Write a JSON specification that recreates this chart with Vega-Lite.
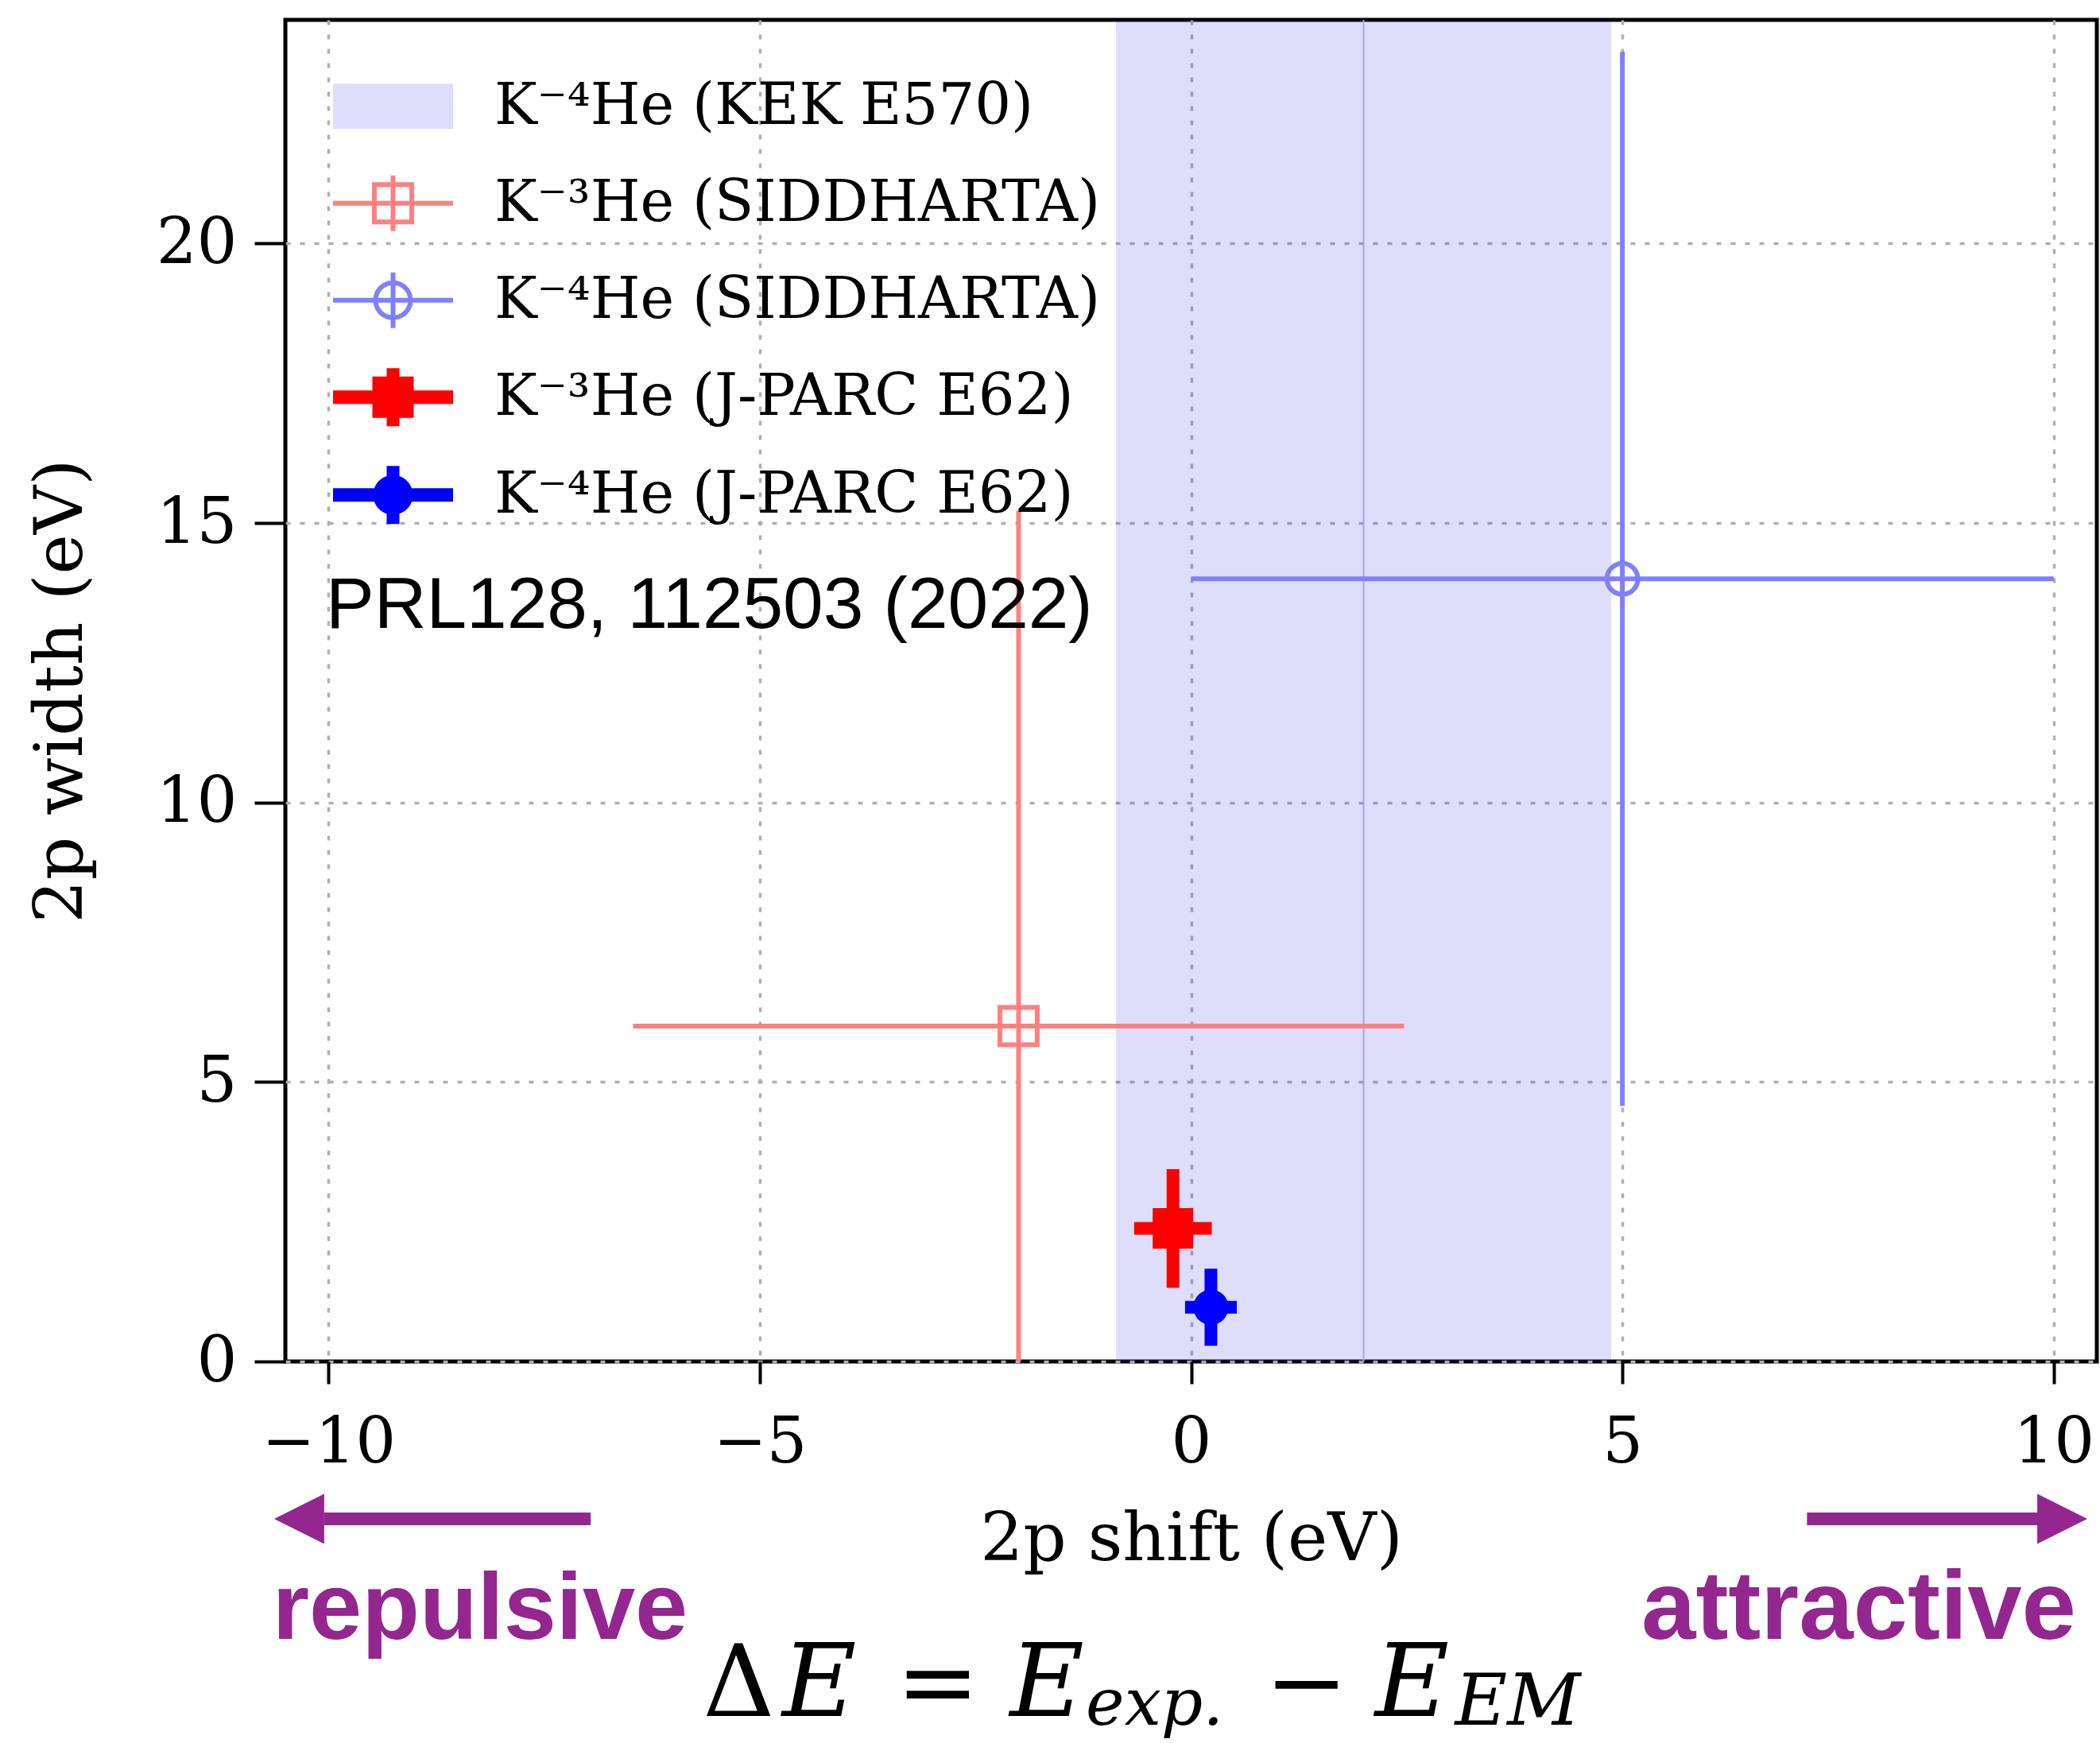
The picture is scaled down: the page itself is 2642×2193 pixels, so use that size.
{
  "$schema": "https://vega.github.io/schema/vega-lite/v6.json",
  "width": 2279,
  "height": 1688,
  "autosize": {"type": "none"},
  "padding": {"left": 359, "top": 25, "right": 4, "bottom": 480},
  "background": "white",
  "datasets": {
    "points": [
      {"series": "S3", "x": -2, "xlo": -6.47, "xhi": 2.47, "y": 6, "ylo": -3.22, "yhi": 15.22},
      {"series": "S4", "x": 5, "xlo": 0, "xhi": 10, "y": 14, "ylo": 4.57, "yhi": 23.43},
      {"series": "J3", "x": -0.21, "xlo": -0.66, "xhi": 0.24, "y": 2.38, "ylo": 1.32, "yhi": 3.44},
      {"series": "J4", "x": 0.23, "xlo": -0.07, "xhi": 0.53, "y": 0.97, "ylo": 0.28, "yhi": 1.66}
    ],
    "band": [{"series": "KEK", "center": 2.0, "lo": -0.87, "hi": 4.87}]
  },
  "layer": [
    {
      "data": {"name": "band"},
      "mark": {"type": "rect", "color": "#3232e6", "opacity": 0.16},
      "encoding": {
        "x": {"field": "lo", "type": "quantitative", "scale": {"domain": [-10.5, 10.5], "nice": false, "zero": false}, "axis": {"title": "2p shift (eV)", "values": [-10, -5, 0, 5, 10], "format": "d"}},
        "x2": {"field": "hi"},
        "y": {"datum": 0, "type": "quantitative", "scale": {"domain": [0, 24], "nice": false, "zero": false}, "axis": {"title": "2p width (eV)", "values": [0, 5, 10, 15, 20], "format": "d"}},
        "y2": {"datum": 24}
      }
    },
    {
      "data": {"name": "band"},
      "mark": {"type": "rule", "color": "#a4a4f2", "strokeWidth": 2},
      "encoding": {"x": {"field": "center", "type": "quantitative"}}
    },
    {
      "data": {"name": "points"},
      "transform": [{"filter": "datum.series == 'S3'"}],
      "mark": {"type": "rule", "strokeWidth": 6, "color": "#ff8080"},
      "encoding": {"x": {"field": "xlo", "type": "quantitative"}, "x2": {"field": "xhi"}, "y": {"field": "y", "type": "quantitative"}}
    },
    {
      "data": {"name": "points"},
      "transform": [{"filter": "datum.series == 'S3'"}],
      "mark": {"type": "rule", "strokeWidth": 6, "color": "#ff8080", "clip": true},
      "encoding": {"x": {"field": "x", "type": "quantitative"}, "y": {"field": "ylo", "type": "quantitative"}, "y2": {"field": "yhi"}}
    },
    {
      "data": {"name": "points"},
      "transform": [{"filter": "datum.series == 'S4'"}],
      "mark": {"type": "rule", "strokeWidth": 6, "color": "#8080ff"},
      "encoding": {"x": {"field": "xlo", "type": "quantitative"}, "x2": {"field": "xhi"}, "y": {"field": "y", "type": "quantitative"}}
    },
    {
      "data": {"name": "points"},
      "transform": [{"filter": "datum.series == 'S4'"}],
      "mark": {"type": "rule", "strokeWidth": 6, "color": "#8080ff"},
      "encoding": {"x": {"field": "x", "type": "quantitative"}, "y": {"field": "ylo", "type": "quantitative"}, "y2": {"field": "yhi"}}
    },
    {
      "data": {"name": "points"},
      "transform": [{"filter": "datum.series == 'S3'"}],
      "mark": {"type": "point", "shape": "square", "size": 2209, "filled": false, "strokeWidth": 6, "color": "#ff8080", "opacity": 1},
      "encoding": {"x": {"field": "x", "type": "quantitative"}, "y": {"field": "y", "type": "quantitative"}}
    },
    {
      "data": {"name": "points"},
      "transform": [{"filter": "datum.series == 'S4'"}],
      "mark": {"type": "point", "shape": "circle", "size": 1521, "filled": false, "strokeWidth": 6, "color": "#8080ff", "opacity": 1},
      "encoding": {"x": {"field": "x", "type": "quantitative"}, "y": {"field": "y", "type": "quantitative"}}
    },
    {
      "data": {"name": "points"},
      "transform": [{"filter": "datum.series == 'J3'"}],
      "mark": {"type": "rule", "strokeWidth": 16, "color": "#ff0000"},
      "encoding": {"x": {"field": "xlo", "type": "quantitative"}, "x2": {"field": "xhi"}, "y": {"field": "y", "type": "quantitative"}}
    },
    {
      "data": {"name": "points"},
      "transform": [{"filter": "datum.series == 'J3'"}],
      "mark": {"type": "rule", "strokeWidth": 16, "color": "#ff0000"},
      "encoding": {"x": {"field": "x", "type": "quantitative"}, "y": {"field": "ylo", "type": "quantitative"}, "y2": {"field": "yhi"}}
    },
    {
      "data": {"name": "points"},
      "transform": [{"filter": "datum.series == 'J4'"}],
      "mark": {"type": "rule", "strokeWidth": 16, "color": "#0000ff"},
      "encoding": {"x": {"field": "xlo", "type": "quantitative"}, "x2": {"field": "xhi"}, "y": {"field": "y", "type": "quantitative"}}
    },
    {
      "data": {"name": "points"},
      "transform": [{"filter": "datum.series == 'J4'"}],
      "mark": {"type": "rule", "strokeWidth": 16, "color": "#0000ff"},
      "encoding": {"x": {"field": "x", "type": "quantitative"}, "y": {"field": "ylo", "type": "quantitative"}, "y2": {"field": "yhi"}}
    },
    {
      "data": {"name": "points"},
      "transform": [{"filter": "datum.series == 'J3'"}],
      "mark": {"type": "point", "shape": "square", "size": 2601, "filled": true, "strokeWidth": 0, "color": "#ff0000", "opacity": 1},
      "encoding": {"x": {"field": "x", "type": "quantitative"}, "y": {"field": "y", "type": "quantitative"}}
    },
    {
      "data": {"name": "points"},
      "transform": [{"filter": "datum.series == 'J4'"}],
      "mark": {"type": "point", "shape": "circle", "size": 1963, "filled": true, "strokeWidth": 0, "color": "#0000ff", "opacity": 1},
      "encoding": {"x": {"field": "x", "type": "quantitative"}, "y": {"field": "y", "type": "quantitative"}}
    },
    {
      "data": {"name": "points"},
      "transform": [{"filter": "datum.series == 'none'"}],
      "mark": {"type": "point", "filled": true, "opacity": 1},
      "encoding": {
        "x": {"field": "x", "type": "quantitative"},
        "y": {"field": "y", "type": "quantitative"},
        "color": {
          "field": "series", "type": "nominal",
          "scale": {"domain": ["KEK", "S3", "S4", "J3", "J4"], "range": ["#dedefb", "#ff8080", "#8080ff", "#ff0000", "#0000ff"]},
          "legend": {"title": null, "orient": "none", "legendX": 85.5, "legendY": 58.7, "symbolSize": 10000, "symbolStrokeWidth": 0, "labelFont": "DejaVu Serif", "labelFontSize": 72, "labelColor": "black", "labelLimit": 0, "labelOffset": 77.5, "rowPadding": 36, "padding": 0,
            "labelExpr": "datum.value == 'KEK' ? 'K⁻⁴He (KEK E570)' : datum.value == 'S3' ? 'K⁻³He (SIDDHARTA)' : datum.value == 'S4' ? 'K⁻⁴He (SIDDHARTA)' : datum.value == 'J3' ? 'K⁻³He (J-PARC E62)' : 'K⁻⁴He (J-PARC E62)'"}
        },
        "shape": {
          "field": "series", "type": "nominal",
          "scale": {"domain": ["KEK", "S3", "S4", "J3", "J4"], "range": [
            "M-1.51,-0.57H1.51V0.57H-1.51Z",
            "M-1.51,-0.06H1.51V0.06H-1.51Z M-0.06,-0.7H0.06V0.7H-0.06Z M-0.53,-0.53H0.53V0.53H-0.53Z M-0.41,-0.41V0.41H0.41V-0.41Z",
            "M-1.51,-0.06H1.51V0.06H-1.51Z M-0.06,-0.7H0.06V0.7H-0.06Z M0.5,0A0.5,0.5,0,1,1,-0.5,0A0.5,0.5,0,1,1,0.5,0Z M0.38,0A0.38,0.38,0,1,0,-0.38,0A0.38,0.38,0,1,0,0.38,0Z",
            "M-1.51,-0.17H1.51V0.17H-1.51Z M-0.16,-0.73H0.16V0.73H-0.16Z M-0.52,-0.52H0.52V0.52H-0.52Z",
            "M-1.51,-0.17H1.51V0.17H-1.51Z M-0.16,-0.73H0.16V0.73H-0.16Z M0.5,0A0.5,0.5,0,1,1,-0.5,0A0.5,0.5,0,1,1,0.5,0Z"
          ]},
          "legend": {"title": null, "orient": "none", "legendX": 85.5, "legendY": 58.7, "symbolSize": 10000, "symbolStrokeWidth": 0, "labelFont": "DejaVu Serif", "labelFontSize": 72, "labelColor": "black", "labelLimit": 0, "labelOffset": 77.5, "rowPadding": 36, "padding": 0,
            "labelExpr": "datum.value == 'KEK' ? 'K⁻⁴He (KEK E570)' : datum.value == 'S3' ? 'K⁻³He (SIDDHARTA)' : datum.value == 'S4' ? 'K⁻⁴He (SIDDHARTA)' : datum.value == 'J3' ? 'K⁻³He (J-PARC E62)' : 'K⁻⁴He (J-PARC E62)'"}
        }
      }
    },
    {
      "data": {"values": [{}]},
      "mark": {"type": "text", "text": "PRL128, 112503 (2022)", "font": "Liberation Sans", "fontSize": 91, "align": "left", "baseline": "middle", "color": "black"},
      "encoding": {"x": {"datum": -10.03, "type": "quantitative"}, "y": {"datum": 13.51, "type": "quantitative"}}
    },
    {
      "data": {"values": [{}]},
      "mark": {"type": "rule", "color": "#93278f", "strokeWidth": 16},
      "encoding": {"x": {"datum": -10.05, "type": "quantitative"}, "x2": {"datum": -6.96}, "y": {"datum": -2.815, "type": "quantitative"}}
    },
    {
      "data": {"values": [{}]},
      "mark": {"type": "rule", "color": "#93278f", "strokeWidth": 16},
      "encoding": {"x": {"datum": 7.14, "type": "quantitative"}, "x2": {"datum": 9.82}, "y": {"datum": -2.815, "type": "quantitative"}}
    },
    {
      "data": {"values": [{}]},
      "mark": {"type": "point", "shape": "M-1,0L1,-1L1,1Z", "size": 3969, "filled": true, "color": "#93278f", "opacity": 1, "strokeWidth": 0},
      "encoding": {"x": {"datum": -10.34, "type": "quantitative"}, "y": {"datum": -2.815, "type": "quantitative"}}
    },
    {
      "data": {"values": [{}]},
      "mark": {"type": "point", "shape": "M1,0L-1,-1L-1,1Z", "size": 3969, "filled": true, "color": "#93278f", "opacity": 1, "strokeWidth": 0},
      "encoding": {"x": {"datum": 10.1, "type": "quantitative"}, "y": {"datum": -2.815, "type": "quantitative"}}
    },
    {
      "data": {"values": [{}]},
      "mark": {"type": "text", "text": "repulsive", "font": "Liberation Sans", "fontWeight": "bold", "fontSize": 119, "align": "left", "baseline": "alphabetic", "color": "#93278f"},
      "encoding": {"x": {"datum": -10.65, "type": "quantitative"}, "y": {"datum": -4.96, "type": "quantitative"}}
    },
    {
      "data": {"values": [{}]},
      "mark": {"type": "text", "text": "attractive", "font": "Liberation Sans", "fontWeight": "bold", "fontSize": 123, "align": "right", "baseline": "alphabetic", "color": "#93278f"},
      "encoding": {"x": {"datum": 10.26, "type": "quantitative"}, "y": {"datum": -4.96, "type": "quantitative"}}
    },
    {
      "data": {"values": [{}]},
      "mark": {"type": "text", "text": "Δ", "font": "DejaVu Serif", "fontSize": 125, "align": "left", "baseline": "alphabetic", "color": "black"},
      "encoding": {"x": {"datum": -5.66, "type": "quantitative"}, "y": {"datum": -6.34, "type": "quantitative"}}
    },
    {
      "data": {"values": [{}]},
      "mark": {"type": "text", "text": "E", "font": "DejaVu Serif", "fontStyle": "italic", "fontSize": 128, "align": "left", "baseline": "alphabetic", "color": "black"},
      "encoding": {"x": {"datum": -4.74, "type": "quantitative"}, "y": {"datum": -6.34, "type": "quantitative"}}
    },
    {
      "data": {"values": [{}]},
      "mark": {"type": "text", "text": "=", "font": "DejaVu Serif", "fontSize": 125, "align": "center", "baseline": "alphabetic", "color": "black"},
      "encoding": {"x": {"datum": -2.935, "type": "quantitative"}, "y": {"datum": -6.34, "type": "quantitative"}}
    },
    {
      "data": {"values": [{}]},
      "mark": {"type": "text", "text": "E", "font": "DejaVu Serif", "fontStyle": "italic", "fontSize": 128, "align": "left", "baseline": "alphabetic", "color": "black"},
      "encoding": {"x": {"datum": -2.1, "type": "quantitative"}, "y": {"datum": -6.34, "type": "quantitative"}}
    },
    {
      "data": {"values": [{}]},
      "mark": {"type": "text", "text": "exp.", "font": "DejaVu Serif", "fontStyle": "italic", "fontSize": 82, "align": "left", "baseline": "alphabetic", "color": "black"},
      "encoding": {"x": {"datum": -1.22, "type": "quantitative"}, "y": {"datum": -6.5, "type": "quantitative"}}
    },
    {
      "data": {"values": [{}]},
      "mark": {"type": "text", "text": "−", "font": "DejaVu Serif", "fontSize": 125, "align": "center", "baseline": "alphabetic", "color": "black"},
      "encoding": {"x": {"datum": 1.34, "type": "quantitative"}, "y": {"datum": -6.34, "type": "quantitative"}}
    },
    {
      "data": {"values": [{}]},
      "mark": {"type": "text", "text": "E", "font": "DejaVu Serif", "fontStyle": "italic", "fontSize": 128, "align": "left", "baseline": "alphabetic", "color": "black"},
      "encoding": {"x": {"datum": 2.13, "type": "quantitative"}, "y": {"datum": -6.34, "type": "quantitative"}}
    },
    {
      "data": {"values": [{}]},
      "mark": {"type": "text", "text": "EM", "font": "DejaVu Serif", "fontStyle": "italic", "fontSize": 90, "align": "left", "baseline": "alphabetic", "color": "black"},
      "encoding": {"x": {"datum": 3.06, "type": "quantitative"}, "y": {"datum": -6.5, "type": "quantitative"}}
    }
  ],
  "config": {
    "view": {"stroke": "black", "strokeWidth": 5},
    "axis": {
      "domain": false, "grid": true, "gridColor": "#b0b0b0", "gridDash": [6, 12], "gridWidth": 3.5,
      "tickColor": "black", "tickWidth": 4, "labelLimit": 0,
      "labelFont": "DejaVu Serif", "labelFontSize": 80, "labelColor": "black",
      "titleFont": "DejaVu Serif", "titleFontSize": 85, "titleFontWeight": "normal", "titleColor": "black"
    },
    "axisX": {"tickSize": 28, "labelPadding": 35, "titlePadding": 40},
    "axisY": {"tickSize": 39, "labelPadding": 22, "titlePadding": 76}
  }
}
